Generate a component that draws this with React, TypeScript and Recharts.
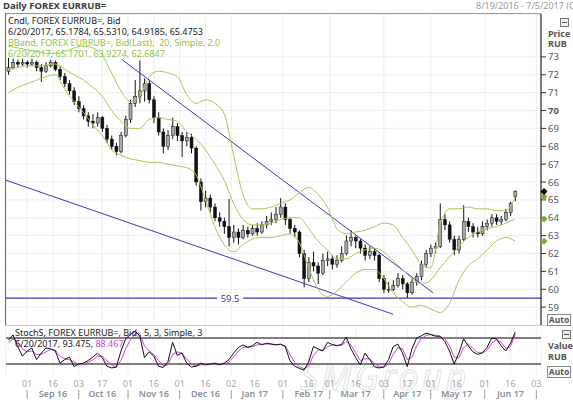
import React from 'react';
import {
  ComposedChart,
  LineChart,
  Bar,
  Line,
  XAxis,
  YAxis,
  CartesianGrid,
  ReferenceLine,
  ReferenceDot,
} from 'recharts';

const FONT = '"Noto Sans", "DejaVu Sans", Arial, sans-serif';
const BAND_GREEN = '#9fcb55';
const TREND_BLUE = '#3a3ab4';
const STOCH_PINK = '#cc44cc';

// x is the trading-day index counted from 8/19/2016 (0) to 7/5/2017 (228)
const lastDay = 228;
const lastDate = '6/20/2017';

// candles, one every second trading day
const candleDays = [
  1, 3, 5, 7, 9, 11, 13, 15, 17, 19,
  21, 23, 25, 27, 29, 31, 33, 35, 37, 39,
  41, 43, 45, 47, 49, 51, 53, 55, 57, 59,
  61, 63, 65, 67, 69, 71, 73, 75, 77, 79,
  81, 83, 85, 87, 89, 91, 93, 95, 97, 99,
  101, 103, 105, 107, 109, 111, 113, 115, 117, 119,
  121, 123, 125, 127, 129, 131, 133, 135, 137, 139,
  141, 143, 145, 147, 149, 151, 153, 155, 157, 159,
  161, 163, 165, 167, 169, 171, 173, 175, 177, 179,
  181, 183, 185, 187, 189, 191, 193, 195, 197, 199,
  201, 203, 205, 207, 209, 211, 213, 215, 217,
];
const opens = [
  72.2, 72.4, 72.7, 72.6, 72.7, 72.6, 72.7, 72.4, 72.2, 72.5,
  72.7, 72.3, 71.9, 71.5, 71.1, 70.5, 70.1, 69.7, 69.4, 69.3,
  69.6, 69.0, 68.4, 68.0, 67.7, 68.6, 69.5, 70.4, 70.8, 71.1,
  71.5, 70.6, 69.6, 68.8, 68.0, 68.6, 69.1, 68.6, 68.3, 68.5,
  67.9, 66.0, 64.9, 65.1, 64.6, 64.0, 63.8, 63.5, 62.9, 63.2,
  62.9, 63.3, 63.1, 63.4, 63.2, 63.6, 63.8, 63.9, 64.2, 64.6,
  63.9, 63.4, 63.2, 62.0, 60.6, 61.5, 61.3, 60.9, 61.6, 61.7,
  61.4, 61.6, 62.0, 62.7, 62.9, 62.7, 62.3, 61.9, 62.1, 61.9,
  60.6, 60.0, 60.0, 60.2, 60.6, 60.3, 59.8, 60.4, 60.7, 61.4,
  62.0, 62.3, 62.4, 63.9, 63.6, 62.8, 62.2, 62.8, 63.8, 63.5,
  63.2, 63.1, 63.5, 63.7, 64.0, 63.8, 63.9, 64.3, 65.1784,
];
const highs = [
  72.95, 72.9, 72.85, 72.9, 72.8, 72.9, 72.8, 72.6, 72.7, 72.85,
  72.8, 72.5, 72.1, 71.7, 71.3, 70.8, 70.3, 69.9, 69.8, 69.9,
  69.7, 69.2, 68.6, 68.2, 68.8, 69.7, 70.6, 71.7, 72.8, 71.8,
  71.7, 70.8, 69.9, 69.0, 68.9, 69.6, 69.3, 68.8, 68.8, 68.7,
  68.0, 66.2, 65.5, 65.3, 64.8, 64.3, 64.0, 65.05, 63.6, 63.4,
  63.6, 63.5, 63.6, 63.7, 63.8, 64.1, 64.3, 64.6, 65.1, 64.8,
  64.0, 63.6, 63.3, 62.2, 61.8, 62.1, 61.5, 62.0, 62.1, 61.9,
  61.9, 62.4, 63.0, 63.3, 63.0, 62.8, 62.5, 62.4, 62.3, 62.0,
  60.8, 60.4, 60.5, 60.9, 60.8, 60.4, 60.6, 60.9, 61.6, 62.2,
  62.5, 62.6, 64.8, 64.2, 63.8, 63.0, 63.0, 64.7, 64.0, 63.7,
  63.5, 63.8, 63.9, 64.2, 64.2, 64.1, 64.5, 64.9, 65.531,
];
const lows = [
  72.0, 72.3, 72.4, 72.5, 72.4, 72.5, 72.2, 71.6, 72.1, 72.4,
  72.2, 71.7, 71.3, 70.9, 70.3, 69.9, 69.5, 69.1, 69.0, 69.1,
  68.8, 68.2, 67.8, 67.5, 67.6, 68.5, 69.3, 70.2, 70.4, 70.5,
  70.4, 69.3, 68.6, 67.6, 67.8, 68.4, 68.3, 67.4, 68.0, 67.6,
  65.8, 64.4, 64.6, 64.3, 63.8, 63.5, 63.1, 62.4, 62.6, 62.5,
  62.8, 62.9, 63.0, 63.0, 63.1, 63.4, 63.6, 63.7, 64.0, 63.6,
  63.1, 62.9, 61.8, 60.1, 60.4, 61.0, 60.3, 60.8, 61.3, 61.1,
  61.2, 61.5, 61.9, 62.4, 62.3, 62.0, 61.6, 61.7, 61.6, 60.4,
  59.8, 59.8, 59.9, 60.1, 60.0, 59.5, 59.7, 60.2, 60.5, 61.2,
  61.8, 62.0, 62.3, 63.3, 62.6, 61.9, 62.0, 62.7, 63.2, 62.9,
  62.9, 63.0, 63.3, 63.5, 63.6, 63.6, 63.8, 64.1, 64.9185,
];
const closes = [
  72.4, 72.7, 72.6, 72.7, 72.6, 72.7, 72.4, 72.2, 72.5, 72.7,
  72.3, 71.9, 71.5, 71.1, 70.5, 70.1, 69.7, 69.4, 69.3, 69.6,
  69.0, 68.4, 68.0, 67.7, 68.6, 69.5, 70.4, 70.8, 71.1, 71.5,
  70.6, 69.6, 68.8, 68.0, 68.6, 69.1, 68.6, 68.3, 68.5, 67.9,
  66.0, 64.9, 65.1, 64.6, 64.0, 63.8, 63.5, 62.9, 63.2, 62.9,
  63.3, 63.1, 63.4, 63.2, 63.6, 63.8, 63.9, 64.2, 64.6, 63.9,
  63.4, 63.2, 62.0, 60.6, 61.5, 61.3, 60.9, 61.6, 61.7, 61.4,
  61.6, 62.0, 62.7, 62.9, 62.7, 62.3, 61.9, 62.1, 61.9, 60.6,
  60.0, 60.0, 60.2, 60.6, 60.3, 59.8, 60.4, 60.7, 61.4, 62.0,
  62.3, 62.4, 63.9, 63.6, 62.8, 62.2, 62.8, 63.8, 63.5, 63.2,
  63.1, 63.5, 63.7, 64.0, 63.8, 63.9, 64.3, 64.8, 65.4753,
];

// Bollinger band (20, 2.0), read every fourth trading day
const bandDays = [
  1, 5, 9, 13, 17, 21, 25, 29, 33, 37,
  41, 45, 49, 53, 57, 61, 65, 69, 73, 77,
  81, 85, 89, 93, 97, 101, 105, 109, 113, 117,
  121, 125, 129, 133, 137, 141, 145, 149, 153, 157,
  161, 165, 169, 173, 177, 181, 185, 189, 193, 197,
  201, 205, 209, 213, 217,
];
const bandUpper = [
  73.6, 73.5, 73.4, 73.3, 73.2, 73.2, 73.3, 73.5, 73.6, 73.5,
  73.1, 72.1, 71.1, 70.5, 70.8, 71.9, 72.2, 72.1, 71.9, 70.9,
  70.4, 70.6, 70.4, 69.8, 67.5, 65.3, 64.5, 64.5, 64.6, 64.8,
  65.0, 65.4, 65.7, 65.3, 64.6, 63.4, 63.1, 63.2, 63.3, 63.5,
  63.7, 63.6, 62.9, 62.2, 61.4, 61.2, 63.6, 64.5, 64.5, 64.6,
  64.5, 64.5, 64.4, 64.4, 65.1701,
];
const bandMiddle = [
  72.3, 72.4, 72.5, 72.5, 72.55, 72.6, 72.3, 72.0, 71.7, 71.3,
  70.8, 70.0, 69.4, 69.0, 69.0, 69.5, 69.6, 69.5, 69.4, 68.8,
  68.4, 67.8, 67.0, 66.1, 64.8, 63.9, 63.6, 63.6, 63.7, 63.9,
  64.0, 64.0, 63.4, 62.7, 62.2, 61.7, 61.7, 62.0, 62.2, 62.3,
  62.1, 61.6, 61.1, 60.6, 60.3, 60.5, 61.2, 61.8, 62.4, 62.9,
  63.2, 63.4, 63.5, 63.7, 63.9274,
];
const bandLower = [
  71.0, 71.3, 71.5, 71.7, 71.9, 72.0, 71.2, 70.5, 69.9, 69.2,
  68.6, 67.8, 67.5, 67.3, 67.2, 67.1, 67.1, 67.0, 66.9, 66.8,
  66.4, 65.0, 63.5, 62.5, 62.1, 62.5, 62.8, 62.9, 62.9, 63.0,
  63.1, 62.6, 61.2, 60.0, 59.6, 59.9, 60.4, 60.9, 61.1, 61.1,
  60.6, 59.8, 59.3, 59.0, 59.1, 58.9, 58.7, 59.2, 60.5, 61.3,
  61.7, 62.2, 62.7, 62.9, 62.6847,
];

// slow stochastic (5, 3, 3) on the candle days
const stochK = [
  75, 87, 60, 38, 50, 57, 30, 45, 57, 55,
  50, 22, 30, 36, 14, 20, 22, 28, 36, 45,
  35, 15, 11, 13, 50, 78, 88, 96, 85, 35,
  48, 38, 15, 12, 25, 70, 40, 45, 22, 13,
  15, 22, 18, 20, 22, 18, 22, 30, 45, 58,
  64, 58, 62, 70, 64, 68, 66, 64, 66, 60,
  28, 15, 10, 6, 25, 60, 55, 50, 70, 65,
  62, 65, 82, 55, 35, 18, 45, 30, 14, 11,
  13, 30, 60, 66, 45, 14, 55, 80, 85, 91,
  88, 84, 84, 72, 50, 20, 45, 78, 62, 48,
  42, 46, 58, 80, 78, 62, 50, 68, 93.475,
];
const stochD = [
  70, 78, 72, 55, 48, 50, 42, 42, 48, 54,
  52, 38, 32, 30, 24, 20, 19, 24, 30, 38,
  38, 28, 18, 13, 28, 55, 75, 90, 90, 62,
  50, 42, 28, 16, 18, 42, 48, 45, 32, 20,
  15, 18, 19, 19, 20, 20, 20, 25, 36, 50,
  58, 60, 60, 64, 66, 66, 66, 65, 65, 62,
  42, 24, 14, 9, 15, 40, 52, 52, 60, 64,
  63, 63, 72, 64, 46, 28, 32, 32, 22, 14,
  12, 20, 42, 58, 55, 30, 35, 62, 78, 86,
  88, 86, 84, 78, 62, 36, 34, 58, 66, 56,
  46, 45, 52, 68, 76, 70, 56, 60, 88.467,
];
const stochLevels = [80, 20];

// axes
const priceTicks = [59, 60, 61, 62, 63, 64, 65, 66, 67, 68, 69, 70, 71, 72, 73];
const dayTicks = [9, 20, 31, 41, 52, 63, 74, 85, 96, 106, 118, 129, 138, 149, 161, 171, 181, 192, 204, 215, 226];
const dayLabels = ['01', '16', '03', '17', '01', '16', '01', '16', '02', '16', '01', '16', '01', '16', '03', '17', '01', '16', '01', '16', '03'];
const monthStarts = [9, 31, 52, 74, 96, 118, 138, 161, 181, 204, 226];
const monthMids = [20, 41, 63, 85, 106, 129, 149, 171, 192, 215];
const monthNames = ['Sep 16', 'Oct 16', 'Nov 16', 'Dec 16', 'Jan 17', 'Feb 17', 'Mar 17', 'Apr 17', 'May 17', 'Jun 17'];

// drawn studies
const trendLines = [
  [{ x: 49.4, y: 72.85 }, { x: 182, y: 59.8 }],
  [{ x: 0, y: 66.1 }, { x: 165, y: 58.6 }],
];
const supportLevel = 59.5;
const supportLabelDay = 95.5;

const bandAt = (list: number[], day: number) => {
  const k = bandDays.indexOf(day);
  return k >= 0 ? list[k] : undefined;
};

const priceData = candleDays.map((day, k) => ({
  day,
  open: opens[k],
  high: highs[k],
  low: lows[k],
  close: closes[k],
  upper: bandAt(bandUpper, day),
  middle: bandAt(bandMiddle, day),
  lower: bandAt(bandLower, day),
}));

const stochData = candleDays.map((day, k) => ({ day, k: stochK[k], d: stochD[k] }));

const last = priceData.length - 1;

function Candle(props: any) {
  const { x, y, width, height, payload } = props;
  if (x == null || !payload) return null;
  const top = Math.min(y, y + height);
  const h = Math.abs(height);
  const span = payload.high - payload.low || 1;
  const toY = (p: number) => top + ((payload.high - p) / span) * h;
  const up = payload.close >= payload.open;
  const bodyTop = toY(Math.max(payload.open, payload.close));
  const bodyBottom = toY(Math.min(payload.open, payload.close));
  const cx = x + width / 2;
  return (
    <g>
      <line x1={cx} x2={cx} y1={top} y2={top + h} stroke="#111" strokeWidth={1} />
      <rect
        x={x}
        y={bodyTop}
        width={width}
        height={Math.max(1, bodyBottom - bodyTop)}
        fill={up ? '#a8a8a8' : '#111'}
        stroke="#111"
        strokeWidth={0.5}
      />
    </g>
  );
}

function SupportLabel(props: any) {
  const { cx, cy } = props;
  return (
    <g>
      <rect x={cx - 13} y={cy - 5} width={26} height={10} fill="#fff" />
      <text x={cx} y={cy + 3.5} textAnchor="middle" fontSize={9.5} fill={TREND_BLUE} fontFamily={FONT}>
        {supportLevel}
      </text>
    </g>
  );
}

const axisMarker = (color: string) => (props: any) => {
  const { cx, cy } = props;
  const mx = cx + 3;
  return <path d={`M${mx} ${cy - 3.5} L${mx + 3.5} ${cy} L${mx} ${cy + 3.5} L${mx - 3.5} ${cy} Z`} fill={color} />;
};

function PriceTick(props: any) {
  const { x, y, payload } = props;
  return (
    <text
      x={x}
      y={y + 3.5}
      fontSize={9.5}
      fill="#555"
      fontFamily={FONT}
      fontWeight={payload.value === 70 ? 700 : 400}
    >
      {payload.value}
    </text>
  );
}

function DateTick(props: any) {
  const { x, y, payload } = props;
  const v = payload.value;
  const k = dayTicks.indexOf(v);
  const m = monthMids.indexOf(v);
  const s = monthStarts.indexOf(v);
  return (
    <g fontFamily={FONT}>
      <text x={x} y={y + 12} textAnchor="middle" fontSize={9} fill="#a6a6a6">
        {dayLabels[k]}
      </text>
      {s >= 0 && <line x1={x} x2={x} y1={y + 15} y2={y + 24} stroke="#9a9a9a" />}
      {m >= 0 && (
        <text x={x} y={y + 22} textAnchor="middle" fontSize={9} fontWeight={600} fill="#8a9099">
          {monthNames[m]}
        </text>
      )}
    </g>
  );
}

const abs = (left: number, top: number, extra: React.CSSProperties = {}): React.CSSProperties => ({
  position: 'absolute',
  left,
  top,
  whiteSpace: 'pre',
  fontFamily: FONT,
  fontSize: 9,
  lineHeight: '11px',
  ...extra,
});

function AutoBox({ top }: { top: number }) {
  return (
    <div
      style={abs(547, top, {
        width: 22,
        height: 10,
        border: '1px solid #888',
        fontWeight: 700,
        color: '#555',
        textAlign: 'center',
        lineHeight: '10px',
        fontSize: 8.5,
      })}
    >
      Auto
    </div>
  );
}

function MinBox({ left, top }: { left: number; top: number }) {
  return (
    <div style={abs(left, top, { width: 7, height: 7, border: '1px solid #777', background: '#eee' })}>
      <div style={{ position: 'absolute', left: 1, top: 3, width: 5, height: 1, background: '#555' }} />
    </div>
  );
}

const fmt = (v: number, d: number) => v.toFixed(d);

export default function App() {
  return (
    <div
      style={{
        position: 'fixed',
        left: 0,
        top: 0,
        width: 573,
        height: 400,
        overflow: 'hidden',
        background: '#fff',
        fontFamily: FONT,
      }}
    >
      <svg width={573} height={400} style={{ position: 'absolute', left: 0, top: 0 }}>
        <text
          x={300}
          y={390}
          fontSize={36}
          fontStyle="italic"
          fontFamily={FONT}
          fill="none"
          stroke="#e4e4e4"
          strokeWidth={1.1}
          letterSpacing={3}
        >
          SMGroup
        </text>
      </svg>

      <div style={{ position: 'absolute', left: 0, top: 0 }}>
        <ComposedChart width={573} height={330} data={priceData} margin={{ top: 14, right: 0, bottom: 5, left: 6 }}>
          <CartesianGrid stroke="#ededed" />
          <XAxis type="number" dataKey="day" domain={[0, lastDay]} ticks={dayTicks} hide />
          <YAxis
            orientation="right"
            width={32}
            domain={[58, 75.4]}
            allowDataOverflow
            ticks={priceTicks}
            interval={0}
            tickSize={5}
            tick={<PriceTick />}
            axisLine={{ stroke: '#000' }}
            tickLine={{ stroke: '#333' }}
          />
          <ReferenceLine y={supportLevel} stroke={TREND_BLUE} strokeWidth={1.2} />
          <ReferenceDot x={supportLabelDay} y={supportLevel} r={1} shape={SupportLabel} />
          {trendLines.map((seg, i) => (
            <ReferenceLine key={i} segment={seg} stroke={TREND_BLUE} strokeWidth={1} ifOverflow="visible" />
          ))}
          <Line dataKey="upper" stroke={BAND_GREEN} strokeWidth={1} dot={false} connectNulls type="monotone" isAnimationActive={false} />
          <Line dataKey="middle" stroke={BAND_GREEN} strokeWidth={1} dot={false} connectNulls type="monotone" isAnimationActive={false} />
          <Line dataKey="lower" stroke={BAND_GREEN} strokeWidth={1} dot={false} connectNulls type="monotone" isAnimationActive={false} />
          <Bar
            dataKey={(d: any) => [d.low, d.high]}
            barSize={3}
            shape={(p: any) => <Candle {...p} />}
            isAnimationActive={false}
          />
          <ReferenceDot x={lastDay} y={bandUpper[bandUpper.length - 1]} r={1} ifOverflow="visible" shape={axisMarker('#6fb23a')} />
          <ReferenceDot x={lastDay} y={bandMiddle[bandMiddle.length - 1]} r={1} ifOverflow="visible" shape={axisMarker('#6fb23a')} />
          <ReferenceDot x={lastDay} y={bandLower[bandLower.length - 1]} r={1} ifOverflow="visible" shape={axisMarker('#6fb23a')} />
          <ReferenceDot x={lastDay} y={closes[last]} r={1} ifOverflow="visible" shape={axisMarker('#000')} />
        </ComposedChart>
      </div>

      <div style={{ position: 'absolute', left: 0, top: 327 }}>
        <LineChart width={573} height={73} data={stochData} margin={{ top: 0, right: 32, bottom: 0, left: 6 }}>
          <CartesianGrid stroke="#efefef" horizontal={false} />
          <XAxis
            type="number"
            dataKey="day"
            domain={[0, lastDay]}
            ticks={dayTicks}
            interval={0}
            height={25}
            tickSize={0}
            tickMargin={0}
            axisLine={false}
            tickLine={false}
            tick={<DateTick />}
          />
          <YAxis hide domain={[-5.3, 105.3]} allowDataOverflow />
          {stochLevels.map((lv) => (
            <ReferenceLine key={lv} y={lv} stroke="#555" strokeWidth={1.5} />
          ))}
          <Line dataKey="d" stroke={STOCH_PINK} strokeWidth={1} dot={false} type="linear" isAnimationActive={false} />
          <Line dataKey="k" stroke="#111" strokeWidth={1} dot={false} type="linear" isAnimationActive={false} />
        </LineChart>
      </div>

      {/* panel frame */}
      <div style={{ position: 'absolute', left: 5, top: 13, width: 536, height: 0, borderTop: '1px solid #999' }} />
      <div style={{ position: 'absolute', left: 5, top: 13, width: 0, height: 312, borderLeft: '1px solid #666' }} />
      <div style={{ position: 'absolute', left: 5, top: 325, width: 550, height: 0, borderTop: '1px solid #ccc' }} />

      {/* titles and study legends */}
      <div style={abs(3, 0, { fontWeight: 700, color: '#3c3c3c', fontSize: 9.5 })}>Daily FOREX EURRUB=</div>
      <div style={abs(476, 0, { color: '#9a9a9a', fontSize: 9 })}>8/19/2016 - 7/5/2017 (GMT)</div>
      <div style={abs(8, 15, { color: '#222' })}>Cndl, FOREX EURRUB=, Bid</div>
      <div style={abs(8, 26, { color: '#222' })}>
        {`${lastDate}, ${fmt(opens[last], 4)}, ${fmt(highs[last], 4)}, ${fmt(lows[last], 4)}, ${fmt(closes[last], 4)}`}
      </div>
      <div style={abs(8, 37, { color: '#8cc44a' })}>BBand, FOREX EURRUB=, Bid(Last),  20, Simple, 2.0</div>
      <div style={abs(8, 48, { color: '#8cc44a' })}>
        {`${lastDate}, ${fmt(bandUpper[bandUpper.length - 1], 4)}, ${fmt(bandMiddle[bandMiddle.length - 1], 4)}, ${fmt(bandLower[bandLower.length - 1], 4)}`}
      </div>
      <div style={abs(15, 327, { color: '#222' })}>StochS, FOREX EURRUB=, Bid,  5, 3, Simple, 3</div>
      <div style={abs(15, 338, { color: '#222' })}>
        {`${lastDate}, ${fmt(stochK[stochK.length - 1], 3)}, `}
        <span style={{ color: STOCH_PINK }}>{fmt(stochD[stochD.length - 1], 3)}</span>
      </div>

      {/* right-hand axis furniture */}
      <MinBox left={560} top={18} />
      <div style={abs(548, 28, { fontWeight: 700, color: '#555' })}>Price</div>
      <div style={abs(548, 38, { fontWeight: 700, color: '#555' })}>RUB</div>
      <AutoBox top={314} />
      <MinBox left={562} top={330} />
      <div style={abs(548, 340, { fontWeight: 700, color: '#555' })}>Value</div>
      <div style={abs(548, 351, { fontWeight: 700, color: '#555' })}>RUB</div>
      <AutoBox top={366} />
    </div>
  );
}
